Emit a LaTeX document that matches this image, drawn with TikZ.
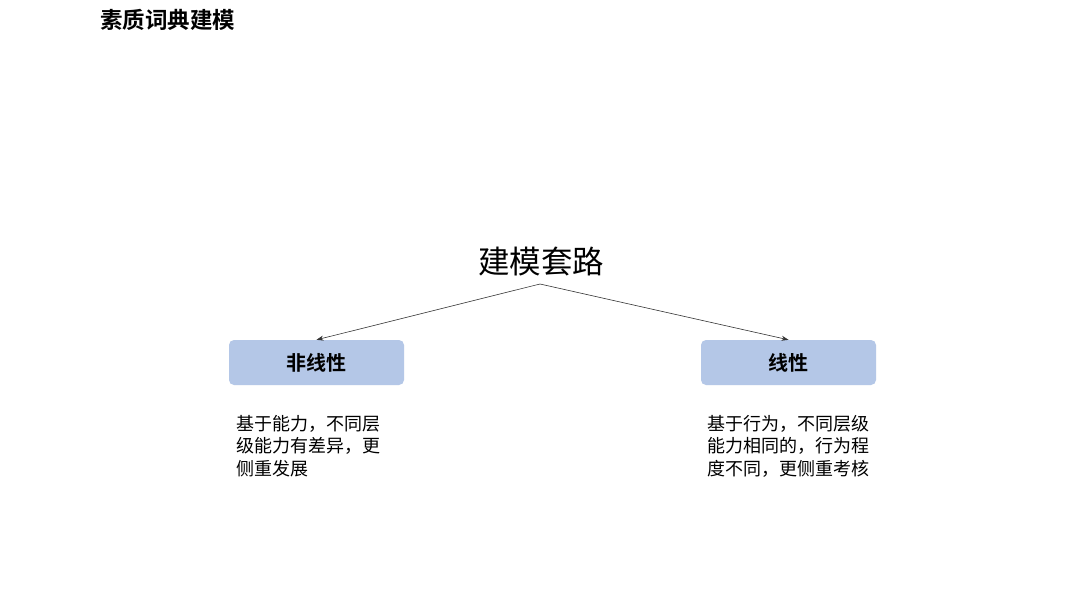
\documentclass[tikz,border=0pt]{standalone}
\usepackage{fontspec}
\newfontfamily\cjk{Noto Sans CJK SC}
\newfontfamily\cjkb{Noto Sans CJK SC Bold}
\usetikzlibrary{arrows.meta}
\begin{document}
\begin{tikzpicture}[x=1pt,y=-1pt,
  catbox/.style={fill=boxblue, draw=none, rounded corners=5pt, minimum width=175pt, minimum height=45pt, inner sep=0pt, font=\cjkb\fontsize{20}{22}\selectfont},
  desc/.style={anchor=north west, align=left, inner sep=0pt, font=\cjk\fontsize{18}{22.5}\selectfont},
  conn/.style={draw=black!80, line width=0.6pt, -{Stealth[length=7pt,width=5pt]}}]
\definecolor{boxblue}{HTML}{B4C7E7}
\useasboundingbox (0,0) rectangle (1080,608);
\fill[white] (0,0) rectangle (1080,608);
\node[anchor=west, inner sep=0pt, font=\cjkb\fontsize{22.5}{25}\selectfont] (title) at (100,20) {素质词典建模};
\node[inner sep=0pt, font=\cjk\fontsize{31.5}{34}\selectfont] (root) at (541,262) {建模套路};
\coordinate (rootb) at (540,284);
\node[catbox] (left) at (316.5,362.5) {非线性};
\node[catbox] (right) at (788.5,362.5) {线性};
\draw[conn] (rootb) -- (left.north);
\draw[conn] (rootb) -- (right.north);
\node[desc] (ldesc) at (236,415) {基于能力，不同层\\级能力有差异，更\\侧重发展};
\node[desc] (rdesc) at (707,415) {基于行为，不同层级\\能力相同的，行为程\\度不同，更侧重考核};
\end{tikzpicture}
\end{document}
